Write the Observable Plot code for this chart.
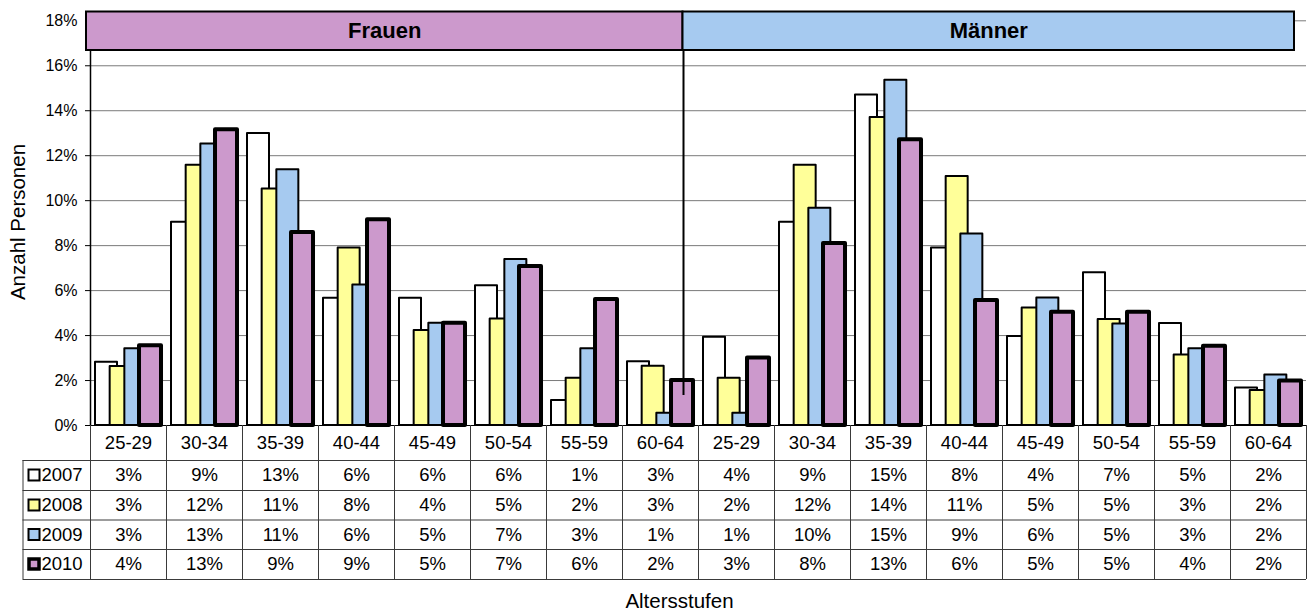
<!DOCTYPE html>
<html>
<head>
<meta charset="utf-8">
<script src="https://cdn.jsdelivr.net/npm/d3@7"></script>
<script src="https://cdn.jsdelivr.net/npm/@observablehq/plot@0.6"></script>
<style>
  html, body { margin: 0; padding: 0; background: #fff; }
  #chart svg { display: block; }
</style>
</head>
<body>
<div id="chart"></div>
<script>
// ---------------- DATA ----------------
const categories = ["25-29", "30-34", "35-39", "40-44", "45-49", "50-54", "55-59", "60-64"];
const groups = ["Frauen", "Männer"];
const years = ["2007", "2008", "2009", "2010"];

const frauen2007 = [2.81, 9.04, 12.99, 5.66, 5.66, 6.22, 1.11, 2.83];
const frauen2008 = [2.62, 11.58, 10.52, 7.90, 4.22, 4.74, 2.10, 2.64];
const frauen2009 = [3.41, 12.52, 11.38, 6.25, 4.55, 7.38, 3.41, 0.55];
const frauen2010 = [3.55, 13.15, 8.58, 9.15, 4.55, 7.07, 5.60, 2.00];

const maenner2007 = [3.93, 9.04, 14.70, 7.90, 3.96, 6.79, 4.54, 1.67];
const maenner2008 = [2.10, 11.58, 13.70, 11.07, 5.23, 4.71, 3.14, 1.56];
const maenner2009 = [0.55, 9.66, 15.36, 8.52, 5.67, 4.52, 3.41, 2.25];
const maenner2010 = [3.00, 8.09, 12.71, 5.56, 5.04, 5.04, 3.52, 1.98];

const yTicks = [0, 2, 4, 6, 8, 10, 12, 14, 16, 18];
const yTitle = "Anzahl Personen";
const xTitle = "Altersstufen";

// ---------------- STYLE ----------------
const fills = ["#FFFFFF", "#FFFF99", "#A6CAF0", "#CC99CC"];
const strokeWidths = [2, 2, 2, 4];
const groupFills = ["#CC99CC", "#A6CAF0"];
const FONT = "'Liberation Sans', Arial, Helvetica, sans-serif";

// ---------------- BUILD TABLE ----------------
const seriesByYear = [
  [frauen2007, maenner2007],
  [frauen2008, maenner2008],
  [frauen2009, maenner2009],
  [frauen2010, maenner2010]
];
const nCat = groups.length * categories.length; // 16 columns

// geometry within one category column (in column units)
const colW = 76;
const barOffset = 5 / colW, barStep = 14.67 / colW, barW = 22 / colW;

const bars = [];
years.forEach((yr, j) => {
  groups.forEach((g, gi) => {
    categories.forEach((c, ci) => {
      const i = gi * categories.length + ci;
      const v = seriesByYear[j][gi][ci];
      bars.push({year: yr, j, group: g, cat: c, i, value: v,
                 x1: i + barOffset + j * barStep, x2: i + barOffset + j * barStep + barW});
    });
  });
});

// scales (same domain/range handed to Plot); invert used only for table/annotation layout
const xS = d3.scaleLinear([0, nCat], [90, 1306]);
const yS = d3.scaleLinear([0, 18], [425, 20.3]);
const px = v => xS.invert(v);
const py = v => yS.invert(v);

const hdrY = py(442.5);
const rowCenters = [475, 505, 534.5, 564].map(py);
const rowLines = [460, 490, 519.5, 549, 579].map(py);
const tableBottom = py(579);

const headerCells = [];
groups.forEach((g, gi) => categories.forEach((c, ci) => headerCells.push({i: gi * categories.length + ci, label: c})));

const valueCells = bars.map(b => ({i: b.i, y: rowCenters[b.j], label: Math.round(b.value) + "%"}));

const legendRows = years.map((yr, j) => ({year: yr, j, y: rowCenters[j]}));

const colBounds = d3.range(0, nCat + 1);

const bands = [
  {g: groups[0], x1: px(86), x2: px(682.5), fill: groupFills[0]},
  {g: groups[1], x1: px(682.5), x2: px(1294), fill: groupFills[1]}
];
const bandY1 = py(50), bandY2 = py(11.5);

const chart = Plot.plot({
  width: 1313,
  height: 610,
  margin: 0,
  x: {domain: xS.domain(), range: xS.range(), axis: null},
  y: {domain: yS.domain(), range: yS.range(), axis: null},
  style: {fontFamily: FONT, background: "#fff", color: "#000", overflow: "visible"},
  marks: [
    Plot.ruleY(yTicks.filter(d => d > 0), {x1: 0, x2: nCat, stroke: "#7a7a7a", strokeWidth: 1}),
    Plot.ruleY(yTicks, {x1: px(85), x2: 0, stroke: "#000", strokeWidth: 1}),
    Plot.ruleX([0], {y1: 0, y2: 18, stroke: "#000", strokeWidth: 1.5}),
    Plot.text(yTicks, {x: px(77), y: d => d, text: d => d + "%", textAnchor: "end", fontSize: 16, fill: "#000"}),

    ...years.map((yr, j) => Plot.rect(bars.filter(b => b.j === j), {
      x1: "x1", x2: "x2", y1: 0, y2: "value",
      fill: fills[j], stroke: "#000", strokeWidth: strokeWidths[j], strokeLinejoin: "round"
    })),

    Plot.ruleY([0], {x1: px(85), x2: nCat, stroke: "#000", strokeWidth: 1}),

    Plot.ruleX([px(683)], {y1: py(395), y2: bandY1, stroke: "#000", strokeWidth: 2}),

    Plot.rect(bands, {x1: "x1", x2: "x2", y1: bandY1, y2: bandY2, fill: "fill", stroke: "#000", strokeWidth: 2}),
    Plot.text(bands, {x: d => (d.x1 + d.x2) / 2, y: py(30.5), text: "g", fontSize: 22, fontWeight: "bold", fill: "#000"}),

    Plot.ruleX(colBounds, {y1: 0, y2: tableBottom, stroke: "#3a3a3a", strokeWidth: 1}),
    Plot.ruleX([px(22.5)], {y1: rowLines[0], y2: tableBottom, stroke: "#3a3a3a", strokeWidth: 1}),
    Plot.ruleY(rowLines, {x1: px(22.5), x2: nCat, stroke: "#3a3a3a", strokeWidth: 1}),

    Plot.text(headerCells, {x: d => d.i + 0.5, y: hdrY, text: "label", fontSize: 18.5, fill: "#000"}),
    Plot.text(valueCells, {x: d => d.i + 0.5, y: "y", text: "label", fontSize: 18.5, fill: "#000"}),

    Plot.rect(legendRows, {
      x1: d => d.j === 3 ? px(29) : px(28.5), x2: d => d.j === 3 ? px(39) : px(39.5),
      y1: d => d.y - (d.j === 3 ? 5 : 5.5) / 22.5, y2: d => d.y + (d.j === 3 ? 5 : 5.5) / 22.5,
      fill: d => fills[d.j], stroke: "#000", strokeWidth: d => d.j === 3 ? 3.5 : 2
    }),
    Plot.text(legendRows, {x: px(41), y: "y", text: "year", textAnchor: "start", fontSize: 18.5, fill: "#000"}),

    Plot.text([xTitle], {x: px(679), y: py(601), text: d => d, fontSize: 20.5, fill: "#000"}),
    Plot.text([yTitle], {x: px(18), y: py(221.5), text: d => d, rotate: -90, fontSize: 20.5, fill: "#000"})
  ]
});

document.getElementById("chart").appendChild(chart);
</script>
</body>
</html>
